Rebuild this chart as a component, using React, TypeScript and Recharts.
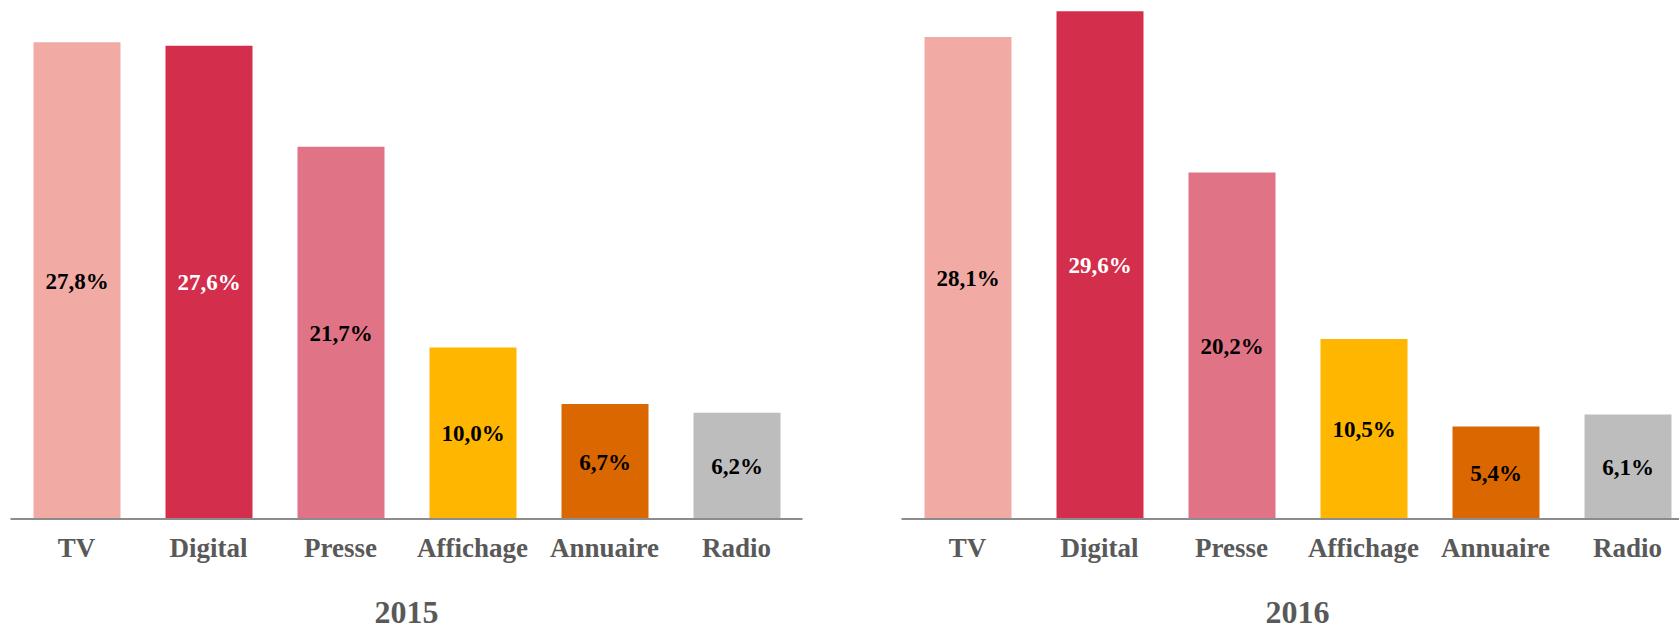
import React from 'react';
import { BarChart, Bar, XAxis, YAxis, Cell, LabelList } from 'recharts';

const CATEGORIES = ['TV', 'Digital', 'Presse', 'Affichage', 'Annuaire', 'Radio'];
const VALUES_2015 = [27.8, 27.6, 21.7, 10.0, 6.7, 6.2];
const VALUES_2016 = [28.1, 29.6, 20.2, 10.5, 5.4, 6.1];
const YEARS = ['2015', '2016'];

const BAR_COLORS = ['#F1ABA4', '#D32E4C', '#E07486', '#FFB600', '#DB6700', '#BDBDBD'];
const LABEL_COLORS = ['#000000', '#FFFFFF', '#000000', '#000000', '#000000', '#000000'];

const FONT = "'Liberation Serif', 'DejaVu Serif', serif";
const GREY = '#595959';

const CHART_W = 830;
const CHART_H = 631;

const CatTick = (props: any) => {
  const { x, y, payload } = props;
  return (
    <text x={x} y={y + 38} textAnchor="middle" fill={GREY} fontFamily={FONT} fontSize={27} fontWeight="bold">
      {payload.value}
    </text>
  );
};

const YearLabel = (props: any) => {
  const vb = props.viewBox || {};
  return (
    <text x={vb.x + vb.width / 2} y={vb.y + 104} textAnchor="middle" fill={GREY} fontFamily={FONT} fontSize={32} fontWeight="bold">
      {props.year}
    </text>
  );
};

const ValueLabel = (props: any) => {
  const { x, y, width, height, value, index } = props;
  const txt = Number(value).toFixed(1).replace('.', ',') + '%';
  return (
    <text
      x={x + width / 2}
      y={y + height / 2}
      dy={8}
      textAnchor="middle"
      fill={LABEL_COLORS[index] || '#000'}
      fontFamily={FONT}
      fontSize={23}
      fontWeight="bold"
    >
      {txt}
    </text>
  );
};

function YearChart({ values, year }: { values: number[]; year: string }) {
  const data = CATEGORIES.map((c, i) => ({ name: c, value: values[i] }));
  return (
    <BarChart
      width={CHART_W}
      height={CHART_H}
      data={data}
      margin={{ top: 4.5, left: 10.5, right: CHART_W - 802.5, bottom: 0 }}
      barSize={87}
    >
      <YAxis hide domain={[0, 30]} />
      <XAxis
        dataKey="name"
        height={112}
        axisLine={{ stroke: '#8C8C8C', strokeWidth: 2 }}
        tickLine={false}
        tickSize={0}
        tickMargin={0}
        interval={0}
        tick={<CatTick />}
        label={<YearLabel year={year} />}
      />
      <Bar dataKey="value" isAnimationActive={false}>
        {data.map((d, i) => (
          <Cell key={d.name} fill={BAR_COLORS[i]} />
        ))}
        <LabelList dataKey="value" content={<ValueLabel />} />
      </Bar>
    </BarChart>
  );
}

export default function App() {
  return (
    <div
      style={{
        position: 'fixed',
        left: 0,
        top: 0,
        width: 1679,
        height: 631,
        overflow: 'hidden',
        background: '#fff',
      }}
    >
      <div style={{ position: 'absolute', left: 0, top: 0 }}>
        <YearChart values={VALUES_2015} year={YEARS[0]} />
      </div>
      <div style={{ position: 'absolute', left: 891, top: 0 }}>
        <YearChart values={VALUES_2016} year={YEARS[1]} />
      </div>
    </div>
  );
}
